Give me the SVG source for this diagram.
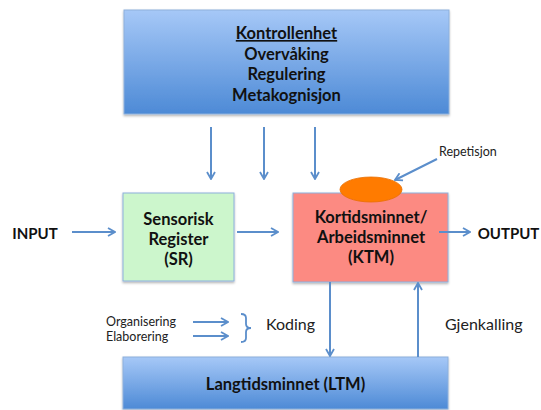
<svg xmlns="http://www.w3.org/2000/svg" width="541" height="410" viewBox="0 0 541 410">
  <defs>
    <linearGradient id="blueFill" x1="0" y1="0" x2="0" y2="1">
      <stop offset="0" stop-color="#a6c8f7"/>
      <stop offset="1" stop-color="#4d8ad6"/>
    </linearGradient>
    <filter id="shadow" x="-10%" y="-10%" width="120%" height="130%">
      <feDropShadow dx="0" dy="1.5" stdDeviation="1.2" flood-color="#000" flood-opacity="0.3"/>
    </filter>
    <marker id="arrow" viewBox="0 0 10 10" refX="9" refY="5" markerWidth="10" markerHeight="10" markerUnits="userSpaceOnUse" orient="auto">
      <path d="M2,1 L9,5 L2,9" fill="none" stroke="#5b8ecb" stroke-width="1.8" stroke-linejoin="miter"/>
    </marker>
  </defs>
  <style>
    .box { stroke: #8db0dc; stroke-width: 1; }
    .blue { fill: url(#blueFill); }
    .green { fill: #ccf6cc; }
    .red { fill: #fc8a82; }
    .title { font-family: Lato, "Liberation Sans", sans-serif; font-weight: bold; font-size: 16.5px; fill: #111; text-anchor: middle; }
    .io { font-size: 15px; }
    .plain { font-family: Lato, "Liberation Sans", sans-serif; fill: #222; }
    .small { font-size: 12.5px; }
    .conn { stroke: #5b8ecb; stroke-width: 2; fill: none; marker-end: url(#arrow); }
  </style>

  <g id="kontrollenhet">
    <rect class="box blue" x="124" y="10" width="325" height="104" filter="url(#shadow)"/>
    <text class="title" x="286.5" y="39" text-decoration="underline">Kontrollenhet</text>
    <text class="title" x="286.5" y="59.5">Overvåking</text>
    <text class="title" x="286.5" y="80">Regulering</text>
    <text class="title" x="286.5" y="100.5">Metakognisjon</text>
  </g>

  <g id="input">
    <text class="title io" x="35" y="239">INPUT</text>
  </g>

  <g id="sensorisk-register">
    <rect class="box green" x="123" y="193" width="111" height="88" filter="url(#shadow)"/>
    <text class="title" x="178.5" y="225">Sensorisk</text>
    <text class="title" x="178.5" y="245">Register</text>
    <text class="title" x="178.5" y="265">(SR)</text>
  </g>

  <g id="korttidsminnet">
    <rect class="box red" x="293" y="193" width="155" height="89" filter="url(#shadow)"/>
    <ellipse cx="371" cy="189.5" rx="31" ry="12.5" fill="#ff7b00" stroke="#e86e00" stroke-width="0.8"/>
    <text class="title" x="371" y="223">Kortidsminnet/</text>
    <text class="title" x="371" y="243">Arbeidsminnet</text>
    <text class="title" x="371" y="263">(KTM)</text>
  </g>

  <g id="repetisjon">
    <text class="plain small" x="439" y="156">Repetisjon</text>
  </g>

  <g id="output">
    <text class="title io" x="508.5" y="239">OUTPUT</text>
  </g>

  <g id="koding">
    <text class="plain small" x="106" y="326">Organisering</text>
    <text class="plain small" x="106" y="341">Elaborering</text>
    <path d="M241,314 Q246,314 246,318 L246,324 Q246,328 251,328 Q246,328 246,332 L246,338 Q246,342 241,342" fill="none" stroke="#5b8ecb" stroke-width="1.8"/>
    <text class="plain" x="266" y="330" font-size="16px">Koding</text>
  </g>

  <g id="gjenkalling">
    <text class="plain" x="445" y="330" font-size="16px">Gjenkalling</text>
  </g>

  <g id="langtidsminnet">
    <rect class="box blue" x="123" y="357" width="325" height="52" filter="url(#shadow)"/>
    <text class="title" x="285.5" y="390">Langtidsminnet (LTM)</text>
  </g>

  <g id="connectors">
    <line class="conn" x1="211" y1="127" x2="211" y2="179"/>
    <line class="conn" x1="264" y1="127" x2="264" y2="179"/>
    <line class="conn" x1="315" y1="127" x2="315" y2="179"/>
    <line class="conn" x1="72" y1="232" x2="115" y2="232"/>
    <line class="conn" x1="237" y1="232" x2="278" y2="232"/>
    <line class="conn" x1="439" y1="232" x2="470" y2="232"/>
    <line class="conn" x1="437" y1="159" x2="395" y2="180"/>
    <line class="conn" x1="330" y1="282" x2="330" y2="356"/>
    <line class="conn" x1="418" y1="357" x2="418" y2="283"/>
    <line class="conn" x1="193" y1="322" x2="228" y2="322"/>
    <line class="conn" x1="193" y1="336" x2="228" y2="336"/>
  </g>
</svg>
